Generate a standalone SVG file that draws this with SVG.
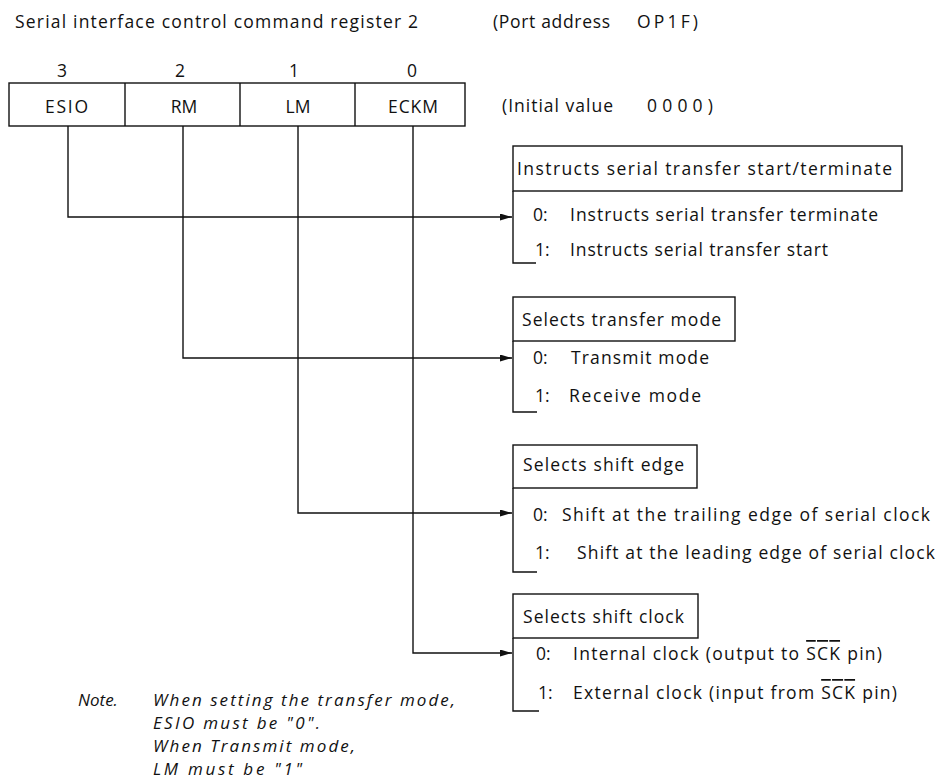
<svg xmlns="http://www.w3.org/2000/svg" width="942" height="779" viewBox="0 0 942 779">
<style>
text{font-family:"Open Sans","DejaVu Sans",sans-serif;font-size:17.5px;fill:#111}
.it{font-style:italic;font-size:17px}
.box{fill:none;stroke:#111;stroke-width:1.4}
.ln{fill:none;stroke:#111;stroke-width:1.4}
.mid{text-anchor:middle}
.ov{text-decoration:overline}
</style>
<defs>
<marker id="arr" markerUnits="userSpaceOnUse" markerWidth="13" markerHeight="8" refX="12" refY="3.5" orient="auto">
<path d="M0,0 L12,3.5 L0,7 z" fill="#111"/>
</marker>
</defs>
<rect width="942" height="779" fill="#fff"/>

<g id="header">
<text x="15" y="28" textLength="403" lengthAdjust="spacing">Serial interface control command register 2</text>
<text x="493" y="28" textLength="117" lengthAdjust="spacing">(Port address</text>
<text x="637" y="28" textLength="61" lengthAdjust="spacing">OP1F)</text>
<text x="502" y="112" textLength="111" lengthAdjust="spacing">(Initial value</text>
<text x="647" y="112" textLength="66" lengthAdjust="spacing">0000)</text>
</g>

<g id="register">
<rect class="box" x="9" y="83" width="456" height="43"/>
<line class="ln" x1="125" y1="83" x2="125" y2="126"/>
<line class="ln" x1="240" y1="83" x2="240" y2="126"/>
<line class="ln" x1="355" y1="83" x2="355" y2="126"/>
<text class="mid" x="62" y="77">3</text>
<text class="mid" x="180" y="77">2</text>
<text class="mid" x="294" y="77">1</text>
<text class="mid" x="412" y="77">0</text>
<text x="45" y="113" textLength="43" lengthAdjust="spacing">ESIO</text>
<text class="mid" x="184" y="113">RM</text>
<text class="mid" x="298" y="113">LM</text>
<text x="388" y="113" textLength="50" lengthAdjust="spacing">ECKM</text>
</g>

<g id="connectors">
<path class="ln" d="M68,126 V217 H512" marker-end="url(#arr)"/>
<path class="ln" d="M183,126 V358 H512" marker-end="url(#arr)"/>
<path class="ln" d="M298,126 V513 H512" marker-end="url(#arr)"/>
<path class="ln" d="M413,126 V653 H512" marker-end="url(#arr)"/>
</g>

<g id="esio-desc">
<rect class="box" x="513" y="146" width="389" height="45"/>
<text x="517" y="175" textLength="375" lengthAdjust="spacing">Instructs serial transfer start/terminate</text>
<path class="ln" d="M513,191 V263 H536"/>
<text x="533" y="221">0:</text>
<text x="570" y="221" textLength="308" lengthAdjust="spacing">Instructs serial transfer terminate</text>
<text x="535" y="256">1:</text>
<text x="570" y="256" textLength="258" lengthAdjust="spacing">Instructs serial transfer start</text>
</g>

<g id="rm-desc">
<rect class="box" x="513" y="297" width="222" height="44"/>
<text x="522" y="326" textLength="199" lengthAdjust="spacing">Selects transfer mode</text>
<path class="ln" d="M513,341 V412 H537"/>
<text x="533" y="364">0:</text>
<text x="571" y="364" textLength="138" lengthAdjust="spacing">Transmit mode</text>
<text x="535" y="402">1:</text>
<text x="569" y="402" textLength="132" lengthAdjust="spacing">Receive mode</text>
</g>

<g id="lm-desc">
<rect class="box" x="513" y="445" width="184" height="43"/>
<text x="523" y="471" textLength="161" lengthAdjust="spacing">Selects shift edge</text>
<path class="ln" d="M513,488 V572 H537"/>
<text x="533" y="521">0:</text>
<text x="562" y="521" textLength="368" lengthAdjust="spacing">Shift at the trailing edge of serial clock</text>
<text x="535" y="559">1:</text>
<text x="577" y="559" textLength="358" lengthAdjust="spacing">Shift at the leading edge of serial clock</text>
</g>

<g id="eckm-desc">
<rect class="box" x="513" y="594" width="185" height="44"/>
<text x="523" y="623" textLength="161" lengthAdjust="spacing">Selects shift clock</text>
<path class="ln" d="M513,638 V711 H539"/>
<text x="536" y="660">0:</text>
<text x="573" y="660" textLength="309" lengthAdjust="spacing">Internal clock (output to <tspan class="ov">SCK</tspan> pin)</text>
<text x="538" y="699">1:</text>
<text x="573" y="699" textLength="324" lengthAdjust="spacing">External clock (input from <tspan class="ov">SCK</tspan> pin)</text>
</g>

<g id="note">
<text class="it" x="78" y="706">Note.</text>
<text class="it" x="153" y="706" textLength="302" lengthAdjust="spacing">When setting the transfer mode,</text>
<text class="it" x="153" y="729" textLength="167" lengthAdjust="spacing">ESIO must be "0".</text>
<text class="it" x="153" y="752" textLength="202" lengthAdjust="spacing">When Transmit mode,</text>
<text class="it" x="153" y="775" textLength="149" lengthAdjust="spacing">LM must be "1"</text>
</g>
</svg>
